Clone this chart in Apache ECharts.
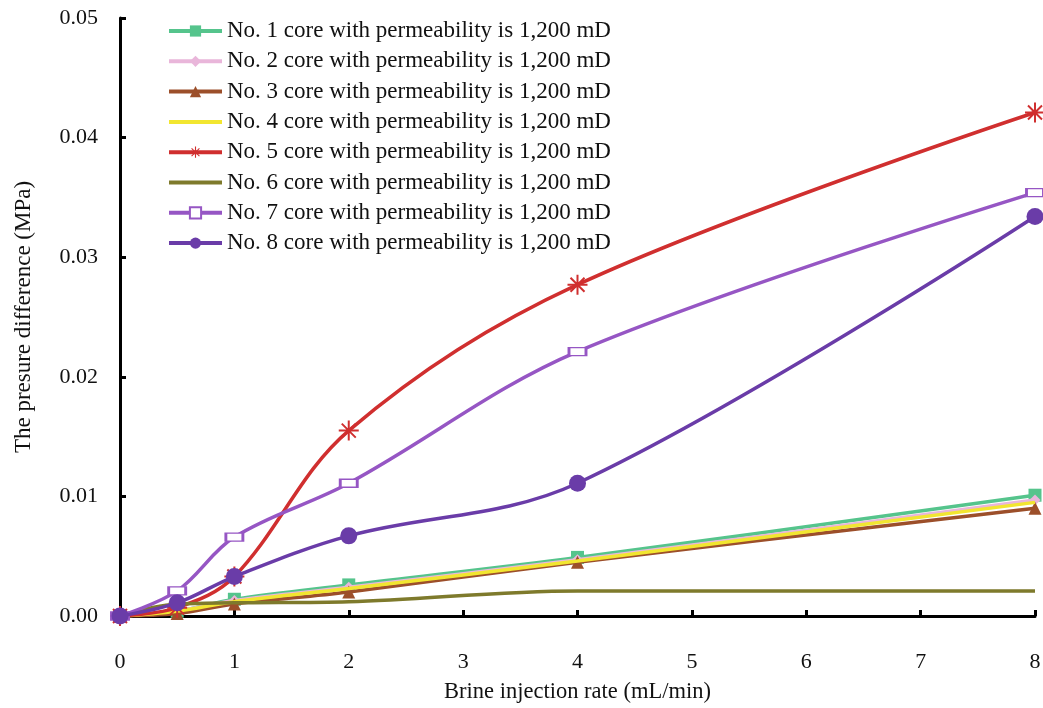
<!DOCTYPE html>
<html><head><meta charset="utf-8">
<script src="https://cdn.jsdelivr.net/npm/echarts@6/dist/echarts.min.js"></script>
<style>html,body{margin:0;padding:0;background:#fff}#c{width:1043px;height:708px}</style>
</head><body><div id="c"></div>
<script>
const xValues = [0, 0.5, 1, 2, 4, 8];
const seriesNames = [
  'No. 1 core with permeability is 1,200 mD',
  'No. 2 core with permeability is 1,200 mD',
  'No. 3 core with permeability is 1,200 mD',
  'No. 4 core with permeability is 1,200 mD',
  'No. 5 core with permeability is 1,200 mD',
  'No. 6 core with permeability is 1,200 mD',
  'No. 7 core with permeability is 1,200 mD',
  'No. 8 core with permeability is 1,200 mD'
];
const core1 = [0, 0.0004, 0.0014, 0.0026, 0.0049, 0.0101];
const core2 = [0, 0.0004, 0.0013, 0.0024, 0.0047, 0.0097];
const core3 = [0, 0.0002, 0.0010, 0.0020, 0.0045, 0.0090];
const core4 = [0, 0.0004, 0.0012, 0.0023, 0.0046, 0.0095];
const core5 = [0, 0.0007, 0.0033, 0.0155, 0.0277, 0.0421];
const core6 = [0, 0.0010, 0.0011, 0.0012, 0.0021, 0.0021];
const core7 = [0, 0.0021, 0.0066, 0.0111, 0.0221, 0.0354];
const core8 = [0, 0.0011, 0.0033, 0.0067, 0.0111, 0.0334];
const yTicks = [0, 0.01, 0.02, 0.03, 0.04, 0.05];

const colors = ['#55c48c', '#e9b6da', '#9c4f2a', '#f2e630', '#d02f2f', '#7e7a2c', '#9656c4', '#6a3ca8'];
const asterisk = 'path://M-1,-10L1,-10L1,10L-1,10Z M-10,-1L10,-1L10,1L-10,1Z M-6.3,-7.7L7.7,6.3L6.3,7.7L-7.7,-6.3Z M6.3,-7.7L7.7,-6.3L-6.3,7.7L-7.7,6.3Z';
const symbols = [
  {symbol: 'rect', size: 13},
  {symbol: 'diamond', size: 11},
  {symbol: 'triangle', size: 13},
  {symbol: 'none', size: 0},
  {symbol: asterisk, size: 20},
  {symbol: 'none', size: 0},
  {symbol: 'rect', size: [17, 8], hollow: true},
  {symbol: 'circle', size: 17}
];
const allData = [core1, core2, core3, core4, core5, core6, core7, core8];

const series = allData.map((vals, i) => {
  const s = symbols[i];
  return {
    name: seriesNames[i],
    type: 'line',
    smooth: 0.35,
    data: vals.map((v, j) => [xValues[j], v]),
    symbol: s.symbol,
    symbolSize: s.size,
    showSymbol: s.symbol !== 'none',
    z: 2 + i,
    lineStyle: {color: colors[i], width: 3.5},
    itemStyle: s.hollow ? {color: '#fff', borderColor: colors[i], borderWidth: 2} : {color: colors[i], borderWidth: 0},
    emphasis: {disabled: true}
  };
});

const legendData = seriesNames.map((n, i) => symbols[i].symbol === 'none'
  ? {name: n, itemStyle: {opacity: 0}}
  : {name: n});

const chart = echarts.init(document.getElementById('c'));
chart.setOption({
  animation: false,
  backgroundColor: '#fff',
  textStyle: {fontFamily: 'Liberation Serif'},
  grid: {left: 120, right: 8, top: 18, bottom: 92, containLabel: false, outerBoundsMode: 'none'},
  legend: {
    orient: 'vertical', left: 167, top: 19.5, padding: 0,
    itemWidth: 53, itemHeight: 14, itemGap: 7.3,
    lineStyle: {width: 4},
    textStyle: {fontFamily: 'Liberation Serif', fontSize: 23, color: '#111', lineHeight: 23},
    data: legendData
  },
  xAxis: {
    type: 'value', min: 0, max: 8, interval: 1,
    name: 'Brine injection rate (mL/min)', nameLocation: 'middle', nameGap: 65,
    nameTextStyle: {fontFamily: 'Liberation Serif', fontSize: 22.5, color: '#111'},
    axisLine: {show: true, onZero: false, lineStyle: {color: '#000', width: 3}},
    axisTick: {show: true, inside: true, length: 6, lineStyle: {color: '#000', width: 3}},
    axisLabel: {fontFamily: 'Liberation Serif', fontSize: 22, color: '#111', margin: 35},
    splitLine: {show: false}
  },
  yAxis: {
    type: 'value', min: 0, max: 0.05, interval: 0.01,
    name: 'The presure difference (MPa)', nameLocation: 'middle', nameGap: 85, nameRotate: 90,
    nameTextStyle: {fontFamily: 'Liberation Serif', fontSize: 23, color: '#111'},
    axisLine: {show: true, lineStyle: {color: '#000', width: 3}},
    axisTick: {show: true, inside: true, length: 6, lineStyle: {color: '#000', width: 3}},
    axisLabel: {fontFamily: 'Liberation Serif', fontSize: 22, color: '#111', margin: 22,
      formatter: v => v.toFixed(2)},
    splitLine: {show: false}
  },
  series: series
});
</script></body></html>
